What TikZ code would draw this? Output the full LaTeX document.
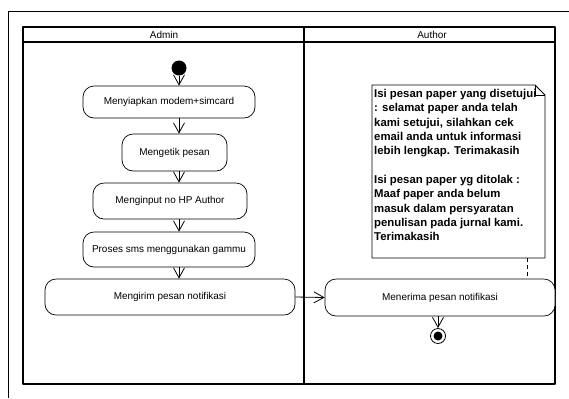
\documentclass[tikz,border=0pt]{standalone}
\usepackage{fontspec}
\setmainfont{Liberation Sans}
\usetikzlibrary{arrows.meta}
\tikzset{
  lane/.style={line width=1.6bp},
  action/.style={draw, rounded corners=11bp, fill=white, font=\fontsize{10}{12}\selectfont, inner sep=0pt, line width=0.7bp},
  flow/.style={-{Straight Barb[length=10bp,width=11bp]}, line width=0.8bp},
  notetext/.style={font=\fontsize{11.4}{14.4}\selectfont\bfseries, align=left, inner sep=0pt, anchor=north west}
}
\begin{document}
\begin{tikzpicture}[x=1bp, y=-1bp, line join=round]
  \useasboundingbox (0,0) rectangle (569,398);
  % cadre exterieur
  \draw[line width=0.8bp] (569,11) -- (8,11) -- (8,398);

  % couloirs Admin / Author
  \coordinate (TL) at (23,27);
  \coordinate (BR) at (555,384);
  \draw[lane] (TL) rectangle (BR);
  \draw[lane] (23,42) -- (555,42);
  \draw[lane] (304,27) -- (304,384);
  \node[font=\fontsize{10}{12}\selectfont] (admin) at (164,34.5) {Admin};
  \node[font=\fontsize{10}{12}\selectfont] (author) at (432,34.5) {Author};

  % etat initial
  \node[circle, fill=black, minimum size=15bp, inner sep=0pt] (start) at (179,68) {};

  % activites Admin
  \node[action, minimum width=172bp, minimum height=32bp] (siap) at (169,102) {Menyiapkan modem+simcard};
  \node[action, minimum width=105bp, minimum height=37bp] (ketik) at (174.5,152.5) {Mengetik pesan};
  \node[action, minimum width=154bp, minimum height=36bp] (input) at (170,201) {Menginput no HP Author};
  \node[action, minimum width=172bp, minimum height=35bp] (proses) at (169,249.5) {Proses sms menggunakan gammu};
  \node[action, minimum width=250bp, minimum height=36bp] (kirim) at (170,297) {Mengirim pesan notifikasi};

  % activite Author
  \node[action, minimum width=230bp, minimum height=37bp] (terima) at (440,297.5) {Menerima pesan notifikasi};

  % etat final
  \node[circle, draw, fill=white, minimum size=15bp, inner sep=0pt, line width=0.8bp] (stop) at (438,336) {};
  \node[circle, fill=black, minimum size=9bp, inner sep=0pt] (stopin) at (stop) {};

  % transitions
  \draw[flow] (start) -- (start |- siap.north);
  \draw[flow] (siap.south -| start) -- (ketik.north -| start);
  \draw[flow] (ketik.south -| start) -- (input.north -| start);
  \draw[flow] (input.south -| start) -- (proses.north -| start);
  \draw[flow] (proses.south -| start) -- (kirim.north -| start);
  \draw[flow] (kirim.east) -- (terima.west);
  \draw[flow] (terima.south -| stop) -- (stop.north);

  % note
  \coordinate (nA) at (372,85);
  \coordinate (nB) at (545,258);
  \draw[fill=white, line width=0.8bp] (nA) -- (535,85) -- (545,95) -- (nB) -- (372,258) -- cycle;
  \draw[line width=0.6bp] (535,85) -- (535,95) -- (545,95);
  \node[notetext] (note) at (374,89) {Isi pesan paper yang disetujui\\
    : selamat paper anda telah\\
    kami setujui, silahkan cek\\
    email anda untuk informasi\\
    lebih lengkap. Terimakasih\\[14.4bp]
    Isi pesan paper yg ditolak :\\
    Maaf paper anda belum\\
    masuk dalam persyaratan\\
    penulisan pada jurnal kami.\\
    Terimakasih};
  \coordinate (link) at (527,258);
  \draw[dashed, line width=0.6bp, dash pattern=on 4bp off 3bp] (link) -- (link |- terima.north);
\end{tikzpicture}
\end{document}
